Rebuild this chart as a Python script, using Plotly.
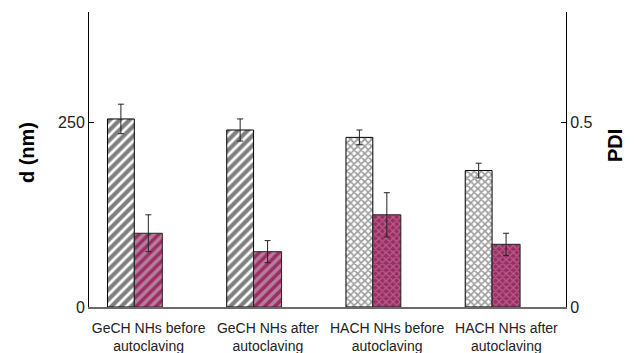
import plotly.graph_objects as go
import numpy as np

# Sample groups (two-line tick labels)
categories = [
    "GeCH NHs before<br>autoclaving",
    "GeCH NHs after<br>autoclaving",
    "HACH NHs before<br>autoclaving",
    "HACH NHs after<br>autoclaving",
]

# Hydrodynamic diameter d (nm), left axis
d_nm = [255, 240, 230, 185]
d_err = [20, 15, 10, 10]

# Polydispersity index, right axis
pdi = [0.20, 0.15, 0.25, 0.17]
pdi_err = [0.05, 0.03, 0.06, 0.03]

pos = np.arange(len(categories))
font_family = "Arial"
pink = "#9b2d64"

fig = go.Figure()

fig.add_trace(go.Bar(
    x=pos, y=d_nm, yaxis="y", name="d (nm)",
    offset=-0.345, width=0.225,
    marker=dict(
        color="white",
        line=dict(color="black", width=1),
        pattern=dict(
            shape=["/", "/", "x", "x"],
            fgcolor=["black", "black", "#3a3a3a", "#3a3a3a"],
            size=[7, 7, 5, 5],
            solidity=[0.6, 0.6, 0.55, 0.55],
        ),
    ),
    error_y=dict(type="data", array=d_err, color="#222222", thickness=1, width=3),
    showlegend=False,
))

fig.add_trace(go.Bar(
    x=pos, y=pdi, yaxis="y2", name="PDI",
    offset=-0.12, width=0.235,
    marker=dict(
        color=pink,
        line=dict(color="#222222", width=1),
        pattern=dict(
            shape=["/", "/", "x", "x"],
            fgcolor=["#cfcfcf", "#cfcfcf", "#d08fb0", "#d08fb0"],
            size=[7, 7, 5, 5],
            solidity=[0.5, 0.5, 0.45, 0.45],
        ),
    ),
    error_y=dict(type="data", array=pdi_err, color="#222222", thickness=1, width=3),
    showlegend=False,
))

fig.update_layout(
    width=635, height=353,
    margin=dict(l=89, r=69, t=12, b=46),
    paper_bgcolor="white", plot_bgcolor="white",
    barmode="overlay",
    font=dict(family=font_family, color="#222222"),
    xaxis=dict(
        range=[-0.5, 3.5],
        tickvals=pos, ticktext=categories,
        tickfont=dict(size=14),
        ticklabelstandoff=7, automargin=False,
        showline=True, linecolor="#6a6a6a", linewidth=1.5,
        showgrid=False, zeroline=False, ticks="",
    ),
    yaxis=dict(
        range=[0, 400], tickvals=[0, 250], ticktext=["0", "250"],
        tickfont=dict(size=16), automargin=False,
        showline=True, linecolor="black", linewidth=1,
        ticks="inside", ticklen=5, tickcolor="black",
        showgrid=False, zeroline=False,
    ),
    yaxis2=dict(
        range=[0, 0.8], tickvals=[0, 0.5], ticktext=["0", "0.5"],
        tickfont=dict(size=16), automargin=False,
        overlaying="y", side="right", anchor="x",
        showline=True, linecolor="black", linewidth=1,
        ticks="inside", ticklen=5, tickcolor="black",
        showgrid=False, zeroline=False,
    ),
    annotations=[
        dict(text="<b>d (nm)</b>", xref="paper", yref="paper",
             x=-0.13, y=0.525, textangle=-90, showarrow=False,
             font=dict(size=20, color="black"), xanchor="center", yanchor="middle"),
        dict(text="<b>PDI</b>", xref="paper", yref="paper",
             x=1.103, y=0.546, textangle=-90, showarrow=False,
             font=dict(size=20, color="black"), xanchor="center", yanchor="middle"),
    ],
)

fig.write_html("out.html")
